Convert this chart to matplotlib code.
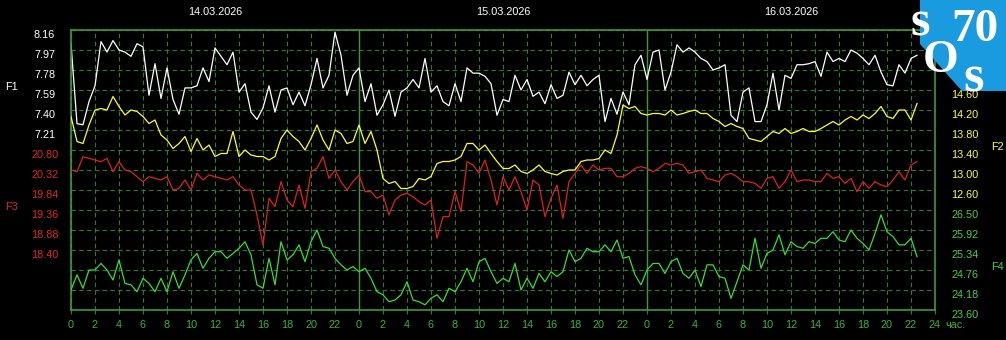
import matplotlib
matplotlib.use("Agg")
import matplotlib.pyplot as plt
from matplotlib.patches import Polygon
import numpy as np

# half-hour readings, 14.03 00:00 ... 16.03 22:30
hours = np.arange(0, 71, 0.5)

F1 = [8.03, 7.27, 7.26, 7.48, 7.63, 8.05, 7.95, 8.06, 7.97, 7.95, 7.91, 8.03, 8.00, 7.54, 7.84, 7.51, 7.80, 7.50,
      7.36, 7.61, 7.61, 7.63, 7.80, 7.67, 7.99, 7.91, 7.83, 7.95, 7.57, 7.65, 7.38, 7.31, 7.42, 7.63, 7.38, 7.59,
      7.61, 7.45, 7.57, 7.44, 7.64, 7.89, 7.61, 7.73, 8.14, 7.92, 7.54, 7.73, 7.80, 7.48, 7.65, 7.35, 7.45, 7.59,
      7.34, 7.57, 7.61, 7.69, 7.61, 7.89, 7.57, 7.63, 7.48, 7.44, 7.65, 7.48, 7.80, 7.75, 7.75, 7.72, 7.65, 7.35,
      7.50, 7.48, 7.73, 7.59, 7.69, 7.53, 7.57, 7.46, 7.64, 7.51, 7.54, 7.76, 7.64, 7.73, 7.63, 7.69, 7.73, 7.29,
      7.51, 7.36, 7.57, 7.45, 7.83, 7.92, 7.69, 7.95, 7.97, 7.59, 7.76, 8.02, 7.95, 7.99, 7.95, 7.89, 7.86, 7.78,
      7.80, 7.83, 7.35, 7.29, 7.57, 7.61, 7.29, 7.29, 7.45, 7.75, 7.40, 7.73, 7.70, 7.83, 7.83, 7.84, 7.86, 7.72,
      7.95, 7.86, 7.89, 7.86, 7.97, 7.94, 7.89, 7.83, 7.92, 7.76, 7.64, 7.63, 7.83, 7.75, 7.89, 7.92]

F2 = [14.07, 13.57, 13.53, 13.90, 14.20, 14.23, 14.20, 14.47, 14.27, 14.10, 14.20, 14.17, 14.07, 13.93, 14.00, 13.70, 13.60, 13.43,
      13.53, 13.67, 13.37, 13.63, 13.40, 13.50, 13.27, 13.33, 13.33, 13.77, 13.27, 13.40, 13.30, 13.27, 13.27, 13.20, 13.27, 13.63,
      13.80, 13.67, 13.57, 13.40, 13.63, 13.90, 13.60, 13.40, 13.80, 13.73, 13.53, 13.57, 13.90, 13.53, 13.77, 13.40, 12.83, 12.73,
      12.77, 12.63, 12.63, 12.67, 12.83, 12.80, 12.87, 13.13, 13.17, 13.17, 13.20, 13.27, 13.53, 13.53, 13.40, 13.50, 13.33, 13.17,
      13.03, 13.03, 13.10, 12.97, 12.93, 13.00, 13.10, 12.97, 12.93, 12.90, 12.97, 13.00, 13.00, 13.17, 13.20, 13.20, 13.23, 13.40,
      13.33, 13.70, 14.30, 14.23, 14.27, 14.13, 14.10, 14.13, 14.13, 14.10, 14.20, 14.10, 14.13, 14.17, 14.20, 14.13, 14.13, 14.03,
      13.97, 13.87, 13.93, 13.87, 13.83, 13.63, 13.60, 13.57, 13.67, 13.77, 13.73, 13.83, 13.73, 13.77, 13.83, 13.77, 13.77, 13.83,
      13.90, 13.97, 13.90, 14.00, 14.07, 14.00, 14.10, 14.03, 14.13, 14.27, 14.07, 14.03, 14.20, 14.20, 14.00, 14.33]

F3 = [20.32, 20.28, 20.64, 20.60, 20.56, 20.52, 20.60, 20.28, 20.52, 20.32, 20.28, 20.16, 20.04, 20.16, 20.12, 20.08, 20.16, 19.84,
      19.88, 20.08, 19.84, 20.24, 20.08, 20.20, 20.16, 20.12, 20.08, 20.16, 19.96, 19.84, 19.84, 19.24, 18.52, 19.64, 19.44, 20.04,
      19.60, 19.44, 19.96, 19.40, 20.28, 20.36, 20.64, 20.12, 20.32, 20.04, 19.84, 20.04, 20.20, 19.80, 19.80, 19.64, 19.72, 19.24,
      19.60, 19.72, 19.76, 19.68, 19.56, 19.48, 19.60, 18.68, 19.20, 19.20, 19.80, 19.32, 20.52, 20.44, 20.24, 20.56, 20.08, 19.48,
      20.16, 19.84, 20.16, 19.80, 19.36, 20.08, 19.96, 19.20, 19.64, 19.96, 19.16, 20.04, 20.24, 20.44, 20.24, 20.44, 20.32, 20.36,
      20.36, 20.16, 20.16, 20.24, 20.36, 20.40, 20.36, 20.28, 20.36, 20.48, 20.44, 20.48, 20.44, 20.24, 20.28, 20.32, 20.12, 20.08,
      20.04, 20.20, 20.24, 20.16, 20.04, 20.04, 20.00, 19.88, 20.12, 20.16, 19.88, 20.04, 20.32, 20.04, 20.08, 20.08, 20.04, 20.04,
      20.24, 20.12, 20.16, 20.00, 20.12, 19.80, 20.04, 19.88, 20.04, 19.96, 19.92, 20.08, 20.28, 20.08, 20.44, 20.52]

F4 = [24.18, 24.62, 24.23, 24.76, 24.76, 24.95, 24.76, 24.47, 25.05, 24.37, 24.33, 24.13, 24.52, 24.37, 24.13, 24.52, 24.13, 24.71,
      24.23, 24.62, 25.05, 25.24, 24.81, 25.10, 25.29, 25.29, 25.10, 25.24, 25.39, 25.58, 25.20, 24.33, 24.23, 25.10, 24.33, 25.58,
      25.05, 25.20, 25.49, 25.00, 25.58, 25.92, 25.44, 25.39, 25.10, 24.91, 24.76, 24.86, 24.71, 24.81, 24.52, 24.13, 24.04, 23.84,
      23.89, 24.04, 24.42, 23.89, 23.84, 23.75, 23.94, 24.04, 23.84, 24.23, 24.13, 24.42, 24.81, 24.42, 25.00, 25.10, 24.71, 24.37,
      24.52, 24.42, 24.95, 24.18, 24.52, 24.23, 24.66, 24.42, 24.71, 24.57, 24.71, 25.34, 25.00, 25.10, 25.39, 25.29, 25.29, 25.49,
      25.29, 25.63, 25.10, 25.15, 24.62, 24.33, 24.76, 24.95, 24.95, 24.66, 25.00, 25.10, 24.66, 24.52, 24.76, 24.28, 24.91, 24.91,
      24.57, 24.52, 23.94, 24.42, 24.91, 24.76, 25.68, 24.81, 25.24, 25.34, 25.78, 25.20, 25.58, 25.44, 25.39, 25.58, 25.53, 25.68,
      25.68, 25.87, 25.63, 25.58, 25.92, 25.68, 25.53, 25.34, 25.82, 26.36, 25.87, 25.73, 25.49, 25.49, 25.68, 25.15]

F1_ticks = [8.16, 7.97, 7.78, 7.59, 7.40, 7.21]
F2_ticks = [14.60, 14.20, 13.80, 13.40, 13.00, 12.60]
F3_ticks = [20.80, 20.32, 19.84, 19.36, 18.88, 18.40]
F4_ticks = [26.50, 25.92, 25.34, 24.76, 24.18, 23.60]
dates = ["14.03.2026", "15.03.2026", "16.03.2026"]

GRID = "#2b7d2b"
FRAME = "#3c9a3c"
TXT_GREEN = "#39b339"
plt.rcParams["font.family"] = ["Liberation Sans", "DejaVu Sans"]
FS = 7.8

fig = plt.figure(figsize=(10.06, 3.40), dpi=100, facecolor="black")
rect = [71 / 1006, 30 / 340, 864 / 1006, 280 / 340]

ax1 = fig.add_axes(rect, facecolor="black")
ax2 = fig.add_axes(rect, facecolor="none")
ax3 = fig.add_axes(rect, facecolor="none")
ax4 = fig.add_axes(rect, facecolor="none")

# F1 axis carries the grid (14 rows of 0.19)
ax1.set_ylim(5.50, 8.16)
grid_rows = [8.16 - 0.19 * i for i in range(15)]
ax1.set_yticks(grid_rows, ["%.2f" % v for v in F1_ticks] + [""] * 9)
ax1.set_xlim(0, 72)
ax1.set_xticks(range(0, 73, 2), [str(h % 24) if h < 72 else "24" for h in range(0, 73, 2)])
ax1.grid(True, color=GRID, lw=0.8, ls=(0, (4, 3)))
for d in (24, 48):
    ax1.axvline(d, color=FRAME, lw=1.0)
for s in ax1.spines.values():
    s.set_color(FRAME)
    s.set_linewidth(1.2)
ax1.tick_params(axis="y", length=0, pad=19, labelcolor="white", labelsize=FS)
ax1.tick_params(axis="x", length=3, color=GRID, pad=4, labelcolor=TXT_GREEN, labelsize=FS)

ax3.set_ylim(16.96, 23.68)
ax3.set_yticks(F3_ticks, ["%.2f" % v for v in F3_ticks])
ax3.tick_params(axis="y", length=0, pad=19, labelcolor="#e02424", labelsize=FS)

ax2.set_ylim(10.20, 15.80)
ax2.yaxis.tick_right()
ax2.set_yticks(F2_ticks, ["%.2f" % v for v in F2_ticks])
ax2.tick_params(axis="y", length=0, pad=21.5, labelcolor="#ffff33", labelsize=FS)

ax4.set_ylim(23.60, 31.72)
ax4.yaxis.tick_right()
ax4.set_yticks(F4_ticks, ["%.2f" % v for v in F4_ticks])
ax4.tick_params(axis="y", length=0, pad=21.5, labelcolor="#44d044", labelsize=FS)

for ax in (ax2, ax3, ax4):
    ax.set_xlim(0, 72)
    ax.xaxis.set_visible(False)
    for s in ax.spines.values():
        s.set_visible(False)
for ax in (ax1, ax2, ax3, ax4):
    plt.setp(ax.get_yticklabels(), ha="center", va="top")

ax1.plot(hours, F1, color="white", lw=0.9)
ax2.plot(hours, F2, color="#ffff22", lw=0.9)
ax3.plot(hours, F3, color="#e02020", lw=0.9)
ax4.plot(hours, F4, color="#33e033", lw=0.9)

for i, d in enumerate(dates):
    ax1.text(12 + 24 * i, 1.064, d, transform=ax1.get_xaxis_transform(), ha="center", va="center",
             color="white", fontsize=FS)
ax1.text(72.85, -0.054, "час.", transform=ax1.get_xaxis_transform(), ha="left", va="center",
         color=TXT_GREEN, fontsize=FS, clip_on=False)

fig.text(11 / 1006, 1 - 87 / 340, "F1", color="white", fontsize=FS, ha="center", va="center")
fig.text(11 / 1006, 1 - 207 / 340, "F3", color="#e02424", fontsize=FS, ha="center", va="center")
fig.text(997 / 1006, 1 - 147 / 340, "F2", color="#ffff33", fontsize=FS, ha="center", va="center")
fig.text(997 / 1006, 1 - 267 / 340, "F4", color="#44d044", fontsize=FS, ha="center", va="center")

# logo in the top right corner
logo = Polygon([(920 / 1006, 1), (1, 1), (1, 1 - 91 / 340), (962 / 1006, 1 - 91 / 340), (920 / 1006, 1 - 44 / 340)],
               closed=True, transform=fig.transFigure, facecolor="#1a9be0", edgecolor="none", zorder=10)
fig.add_artist(logo)
lf = dict(color="white", family="Liberation Serif", weight="bold", ha="center", va="center", zorder=11)
fig.text(920 / 1006, 1 - 23 / 340, "s", fontsize=36, **lf)
fig.text(975 / 1006, 1 - 30 / 340, "70", fontsize=34, **lf)
fig.text(941 / 1006, 1 - 61 / 340, "O", fontsize=33, **lf)
fig.text(974 / 1006, 1 - 78 / 340, "s", fontsize=38, **lf)

fig.savefig("out.png", dpi=100, facecolor="black")
